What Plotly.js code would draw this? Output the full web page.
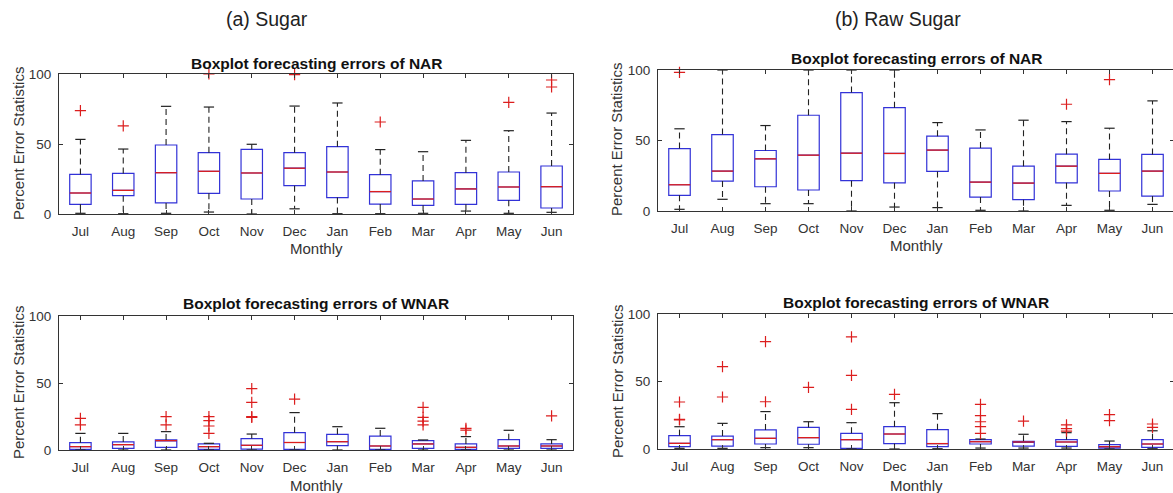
<!DOCTYPE html>
<html><head><meta charset="utf-8">
<script src="https://cdn.plot.ly/plotly-3.0.1.min.js"></script>
<style>html,body{margin:0;padding:0;overflow:hidden;background:#fff}#chart{width:1176px;height:493px}</style>
</head><body><div id="chart"></div>
<script>
const months = ['Jul','Aug','Sep','Oct','Nov','Dec','Jan','Feb','Mar','Apr','May','Jun'];
const yTicks = [0, 50, 100];

// (a) Sugar - NAR
const sugarNarLower  = [0.5, 0.2, 0.5, 1.4, 0, 3.7, 0.2, 0.2, 0.5, 2.1, 0.5, 1.2];
const sugarNarQ1     = [6.9, 13.1, 7.9, 14.8, 10.7, 20.2, 11.7, 7.1, 6.2, 6.9, 9.8, 4.3];
const sugarNarMedian = [15, 16.9, 29.5, 30.5, 29.3, 32.7, 30, 16, 10.7, 17.9, 19.3, 19.5];
const sugarNarQ3     = [28.3, 29, 49.3, 43.8, 46.2, 43.8, 48.1, 28.1, 23.6, 29.5, 30, 34.3];
const sugarNarUpper  = [53.3, 46.4, 76.9, 76.4, 49.8, 77.1, 79.3, 46, 44.5, 52.6, 59.5, 72.1];
const sugarNarOut    = [[73.8],[62.9],[],[100],[],[99.5],[],[65.7],[],[],[79.8],[95.7,90.7]];

// (a) Sugar - WNAR
const sugarWnarLower  = [0, 0, 0, 0, 0, 0, 0, 0, 0, 0, 0, 0];
const sugarWnarQ1     = [0.5, 1.2, 2, 0.5, 0.7, 0.5, 3.2, 0.5, 1.2, 0.5, 1.2, 1.2];
const sugarWnarMedian = [2.5, 4, 7, 2.5, 3.5, 5.6, 6.2, 3, 4.5, 2, 3, 3];
const sugarWnarQ3     = [5.5, 6, 7.5, 4.5, 8.5, 12.9, 11.7, 10.4, 7, 4.5, 7.7, 4.5];
const sugarWnarUpper  = [12.4, 12.4, 13.7, 5, 11.9, 27.9, 17.4, 16.2, 7.5, 10, 14.7, 7.7];
const sugarWnarOut    = [[23.6,18.7],[],[24.9,18.7],[24.9,21.9,17.9,12.4],[45.8,35.6,24.9,24.4],[38],[],[],[31.8,24.4,21.6,18.7],[16.2,14.9],[],[25.4]];

// (b) Raw Sugar - NAR
const rawNarLower  = [1.2, 8.3, 5.2, 5.2, 0, 2.8, 2.4, 0.5, 0, 4, 0.5, 4.7];
const rawNarQ1     = [11.1, 21.2, 17.2, 14.9, 21.5, 20, 28.1, 9.9, 8, 20, 14.2, 10.6];
const rawNarMedian = [18.6, 28.3, 37, 39.6, 41, 40.8, 43.2, 20.5, 19.8, 31.8, 26.7, 28.3];
const rawNarQ3     = [44.3, 54.2, 42.9, 67.9, 84, 73.3, 53.1, 44.6, 31.8, 40.3, 36.6, 40.1];
const rawNarUpper  = [58.3, 100, 60.6, 100, 100, 100, 62.7, 57.5, 64.4, 63.4, 58.7, 78.1];
const rawNarOut    = [[98.3],[],[],[],[],[],[],[],[],[75.7],[93.2],[]];

// (b) Raw Sugar - WNAR
const rawWnarLower  = [0.5, 0.5, 1, 1, 0, 0, 0.2, 0.7, 0.7, 0.7, 0, 0.2];
const rawWnarQ1     = [1.7, 2.2, 3.7, 3.5, 0.5, 4, 1.7, 3.7, 2.2, 2, 0.7, 1.2];
const rawWnarMedian = [4.2, 6.9, 7.9, 8.4, 6.9, 11.1, 4, 5.4, 5.2, 5.2, 1.7, 3.7];
const rawWnarQ3     = [9.9, 9.6, 14.1, 16, 11.6, 16.5, 14.3, 6.9, 5.7, 6.9, 3.2, 6.9];
const rawWnarUpper  = [16.5, 19, 27.7, 20.2, 19.5, 34.3, 26.2, 7.4, 10.9, 12.1, 5.9, 13.5];
const rawWnarOut    = [[34.8,22,21.5],[61,38.5],[79.5,35],[45.7],[83,54.6,29.4],[40.5],[],[33.1,24.7,20.2,16.5,11.6],[20.7],[17.8,15.1,13.2],[25.5,21],[18.5,16]];

const W = 1176, H = 493;
const BLUE = 'rgb(50,50,215)', RED = 'rgb(220,30,30)', BLACK = '#222';
const FONT = 'Liberation Sans, Arial, sans-serif';
const pos = months.map((m, i) => i + 1);
const HALF_BOX = 0.25, HALF_CAP = 0.12;

function panelTraces(lower, q1, med, q3, upper, out, n) {
  const xa = 'x' + (n === 1 ? '' : n), ya = 'y' + (n === 1 ? '' : n);
  const traces = [];
  traces.push({
    type: 'box', x: pos, q1: q1, median: med, q3: q3, lowerfence: q1, upperfence: q3,
    width: 2 * HALF_BOX, whiskerwidth: 0, boxpoints: false,
    line: {color: BLUE, width: 1.2}, fillcolor: 'rgba(0,0,0,0)',
    xaxis: xa, yaxis: ya, hoverinfo: 'skip', showlegend: false
  });
  const wx = [], wy = [];
  pos.forEach((p, i) => { wx.push(p, p, null, p, p, null); wy.push(q3[i], upper[i], null, q1[i], lower[i], null); });
  traces.push({type: 'scatter', mode: 'lines', x: wx, y: wy, line: {color: BLACK, width: 1.1, dash: '6px,4px'},
    xaxis: xa, yaxis: ya, hoverinfo: 'skip', showlegend: false});
  const cx = [], cy = [];
  pos.forEach((p, i) => { cx.push(p - HALF_CAP, p + HALF_CAP, null, p - HALF_CAP, p + HALF_CAP, null); cy.push(upper[i], upper[i], null, lower[i], lower[i], null); });
  traces.push({type: 'scatter', mode: 'lines', x: cx, y: cy, line: {color: BLACK, width: 1.2},
    xaxis: xa, yaxis: ya, hoverinfo: 'skip', showlegend: false});
  const mx = [], my = [];
  pos.forEach((p, i) => { mx.push(p - HALF_BOX, p + HALF_BOX, null); my.push(med[i], med[i], null); });
  traces.push({type: 'scatter', mode: 'lines', x: mx, y: my, line: {color: RED, width: 1.3},
    xaxis: xa, yaxis: ya, hoverinfo: 'skip', showlegend: false});
  const ox = [], oy = [];
  out.forEach((arr, i) => arr.forEach(v => { ox.push(pos[i]); oy.push(v); }));
  traces.push({type: 'scatter', mode: 'markers', x: ox, y: oy, cliponaxis: false,
    marker: {symbol: 'cross-thin-open', size: 8, color: RED, line: {color: RED, width: 1.2}},
    xaxis: xa, yaxis: ya, hoverinfo: 'skip', showlegend: false});
  return traces;
}

const data = [].concat(
  panelTraces(sugarNarLower, sugarNarQ1, sugarNarMedian, sugarNarQ3, sugarNarUpper, sugarNarOut, 1),
  panelTraces(rawNarLower, rawNarQ1, rawNarMedian, rawNarQ3, rawNarUpper, rawNarOut, 2),
  panelTraces(sugarWnarLower, sugarWnarQ1, sugarWnarMedian, sugarWnarQ3, sugarWnarUpper, sugarWnarOut, 3),
  panelTraces(rawWnarLower, rawWnarQ1, rawWnarMedian, rawWnarQ3, rawWnarUpper, rawWnarOut, 4)
);

// panel pixel boxes: left, right, top, bottom
const boxes = [
  [59, 573, 74, 214],
  [658, 1174, 70, 211],
  [59, 573, 316, 450],
  [658, 1174, 314, 449]
];
const px = x => x / W, py = y => 1 - y / H;

const layout = {
  width: W, height: H, margin: {l: 0, r: 0, t: 0, b: 0},
  paper_bgcolor: '#fff', plot_bgcolor: '#fff', showlegend: false,
  font: {family: FONT, color: '#333'},
  annotations: []
};

boxes.forEach((b, k) => {
  const s = k === 0 ? '' : String(k + 1);
  layout['xaxis' + s] = {
    domain: [px(b[0]), px(b[1])], anchor: 'y' + s, range: [0.5, 12.5],
    tickmode: 'array', tickvals: pos, ticktext: months,
    ticks: 'inside', ticklen: 4, tickwidth: 1, tickcolor: '#333',
    showline: true, linecolor: '#333', linewidth: 1, mirror: 'ticks',
    showgrid: false, zeroline: false, fixedrange: true,
    tickfont: {family: FONT, size: 13.5, color: '#333'}, ticklabelstandoff: 5
  };
  layout['yaxis' + s] = {
    domain: [py(b[3]), py(b[2])], anchor: 'x' + s, range: [0, 100],
    tickmode: 'array', tickvals: yTicks,
    ticks: 'inside', ticklen: 4, tickwidth: 1, tickcolor: '#333',
    showline: true, linecolor: '#333', linewidth: 1, mirror: 'ticks',
    showgrid: false, zeroline: false, fixedrange: true,
    tickfont: {family: FONT, size: 13.5, color: '#333'}, ticklabelstandoff: 4
  };
});

function ann(text, x, y, size, opts) {
  layout.annotations.push(Object.assign({
    text: text, x: px(x), y: py(y), xref: 'paper', yref: 'paper',
    xanchor: 'center', yanchor: 'middle', showarrow: false,
    font: {family: FONT, size: size, color: '#333'}
  }, opts || {}));
}

ann('(a) Sugar', 267, 19, 19.5, {font: {family: FONT, size: 19.5, color: '#222'}});
ann('(b) Raw Sugar', 898, 19, 19.5, {font: {family: FONT, size: 19.5, color: '#222'}});
ann('<b>Boxplot forecasting errors of NAR</b>', 316, 63, 15.5, {font: {family: FONT, size: 15.5, color: '#111'}});
ann('<b>Boxplot forecasting errors of NAR</b>', 916, 59, 15.5, {font: {family: FONT, size: 15.5, color: '#111'}});
ann('<b>Boxplot forecasting errors of WNAR</b>', 316, 303, 15.5, {font: {family: FONT, size: 15.5, color: '#111'}});
ann('<b>Boxplot forecasting errors of WNAR</b>', 916, 302, 15.5, {font: {family: FONT, size: 15.5, color: '#111'}});
ann('Monthly', 316, 248, 15);
ann('Monthly', 916, 246, 15);
ann('Monthly', 316, 485, 15);
ann('Monthly', 916, 485, 15);
ann('Percent Error Statistics', 18, 144, 15, {textangle: -90});
ann('Percent Error Statistics', 617, 140, 15, {textangle: -90});
ann('Percent Error Statistics', 18, 383, 15, {textangle: -90});
ann('Percent Error Statistics', 617, 382, 15, {textangle: -90});

Plotly.newPlot('chart', data, layout, {staticPlot: true, displayModeBar: false});
</script>
</body></html>
